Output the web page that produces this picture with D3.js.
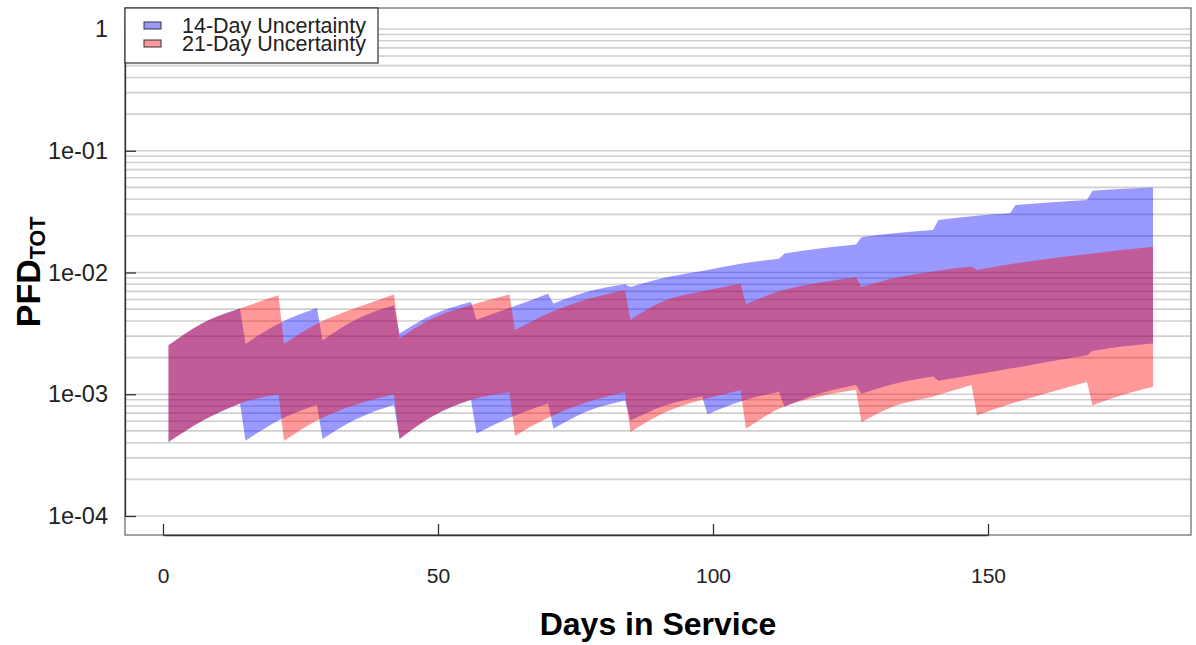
<!DOCTYPE html>
<html>
<head>
<meta charset="utf-8">
<script src="https://cdn.jsdelivr.net/npm/d3@7"></script>
<style>
  body { margin: 0; background: #fff; }
  svg text { font-family: "Liberation Sans", Arial, Helvetica, sans-serif; }
</style>
</head>
<body>
<svg id="chart" width="1196" height="645"></svg>
<script>
// 14-day test interval: sample days inside each cycle, upper and lower bound of PFD
const blueDays = [
    [1, 7, 14], [15, 21, 28], [29, 35, 42], [43, 49, 56], [57, 63, 70],
    [71, 77, 84], [85, 91, 98], [99, 105, 112], [113, 119, 126], [127, 133, 140],
    [141, 147, 154], [155, 161, 168], [169, 174, 180]
];
const blueUpper = [
    [2.53e-3, 3.8e-3, 5.05e-3], [2.6e-3, 3.8e-3, 5.1e-3], [2.78e-3, 4.1e-3, 5.38e-3],
    [3.15e-3, 4.5e-3, 5.73e-3], [4.1e-3, 5.1e-3, 6.7e-3], [5.55e-3, 6.9e-3, 8.0e-3],
    [7.6e-3, 9.0e-3, 1.03e-2], [1.05e-2, 1.18e-2, 1.30e-2], [1.43e-2, 1.57e-2, 1.70e-2],
    [1.95e-2, 2.1e-2, 2.23e-2], [2.70e-2, 2.9e-2, 3.06e-2], [3.58e-2, 3.75e-2, 3.94e-2],
    [4.69e-2, 4.85e-2, 5.0e-2]
];
const blueLower = [
    [4.05e-4, 6.0e-4, 8.4e-4], [4.15e-4, 6.1e-4, 8.2e-4], [4.3e-4, 6.2e-4, 8.2e-4],
    [4.3e-4, 6.6e-4, 9.0e-4], [4.75e-4, 6.4e-4, 8.4e-4], [5.2e-4, 7.2e-4, 8.9e-4],
    [6.1e-4, 8.0e-4, 9.6e-4], [6.85e-4, 8.7e-4, 1.05e-3], [7.9e-4, 1.0e-3, 1.19e-3],
    [1.01e-3, 1.22e-3, 1.40e-3], [1.29e-3, 1.43e-3, 1.63e-3], [1.65e-3, 1.85e-3, 2.09e-3],
    [2.27e-3, 2.45e-3, 2.61e-3]
];

// 21-day test interval
const redDays = [
    [1, 7, 14, 21], [22, 28, 35, 42], [43, 49, 56, 63], [64, 70, 77, 84], [85, 91, 98, 105],
    [106, 112, 119, 126], [127, 133, 140, 147], [148, 154, 161, 168], [169, 174, 180]
];
const redUpper = [
    [2.53e-3, 3.8e-3, 5.05e-3, 6.5e-3], [2.6e-3, 3.8e-3, 5.1e-3, 6.6e-3],
    [2.87e-3, 4.2e-3, 5.4e-3, 6.6e-3], [3.35e-3, 4.6e-3, 6.0e-3, 7.15e-3],
    [4.1e-3, 5.8e-3, 7.0e-3, 8.1e-3], [5.48e-3, 7.0e-3, 8.2e-3, 9.15e-3],
    [7.6e-3, 9.0e-3, 1.02e-2, 1.12e-2], [1.05e-2, 1.17e-2, 1.3e-2, 1.41e-2],
    [1.43e-2, 1.52e-2, 1.63e-2]
];
const redLower = [
    [4.05e-4, 6.0e-4, 8.4e-4, 1.0e-3], [4.15e-4, 6.1e-4, 8.2e-4, 1.0e-3],
    [4.3e-4, 6.6e-4, 9.0e-4, 1.04e-3], [4.55e-4, 6.4e-4, 8.6e-4, 1.04e-3],
    [4.9e-4, 7.0e-4, 9.0e-4, 1.08e-3], [5.2e-4, 7.6e-4, 9.5e-4, 1.09e-3],
    [5.9e-4, 8.0e-4, 9.6e-4, 1.19e-3], [6.7e-4, 8.3e-4, 1.03e-3, 1.26e-3],
    [8.1e-4, 9.7e-4, 1.15e-3]
];

const xTicks = [0, 50, 100, 150];
const yTicks = [1e-4, 1e-3, 1e-2, 1e-1, 1];
const yTickLabels = ['1e-04', '1e-03', '1e-02', '1e-01', '1'];
const legendLabels = ['14-Day Uncertainty', '21-Day Uncertainty'];
const bandColors = ['rgba(0,0,255,0.4)', 'rgba(255,0,0,0.4)'];

const box = {left: 125, right: 1191, top: 8, bottom: 535};

const svg = d3.select('#chart');

const x = d3.scaleLinear().domain([0, 150]).range([163, 988]);
const y = d3.scaleLog().domain([1e-4, 1]).range([516, 29]);

// minor log grid
svg.append('g')
    .selectAll('line')
    .data(y.ticks())
    .enter().append('line')
    .attr('x1', box.left)
    .attr('x2', box.right)
    .attr('y1', d => y(d))
    .attr('y2', d => y(d))
    .attr('stroke', '#cfcfcf')
    .attr('stroke-width', 1.6);

/**
 * One path per band: a smooth area for every test cycle plus a straight
 * piece for the drop between the last day of a cycle and the next test
 */
function bandPath(days, upper, lower) {
    const cycles = days.map((ds, i) => ds.map((d, j) => ({d: d, hi: upper[i][j], lo: lower[i][j]})));
    const smooth = d3.area()
        .x(p => x(p.d))
        .y0(p => y(p.lo))
        .y1(p => y(p.hi))
        .curve(d3.curveMonotoneX);
    const straight = d3.area()
        .x(p => x(p.d))
        .y0(p => y(p.lo))
        .y1(p => y(p.hi));
    let path = '';
    cycles.forEach((c, i) => {
        path += smooth(c);
        if (i < cycles.length - 1)
            path += straight([c[c.length - 1], cycles[i + 1][0]]);
    });
    return path;
}

svg.append('path')
    .attr('d', bandPath(blueDays, blueUpper, blueLower))
    .attr('fill', bandColors[0]);

svg.append('path')
    .attr('d', bandPath(redDays, redUpper, redLower))
    .attr('fill', bandColors[1]);

// plot frame
svg.append('rect')
    .attr('x', box.left)
    .attr('y', box.top)
    .attr('width', box.right - box.left)
    .attr('height', box.bottom - box.top)
    .attr('fill', 'none')
    .attr('stroke', '#707070')
    .attr('stroke-width', 1.3);

const xAxis = svg.append('g')
    .attr('transform', `translate(0,${box.bottom})`)
    .call(d3.axisBottom(x).tickValues(xTicks).tickSizeInner(-11).tickSizeOuter(0).tickPadding(33));

const yAxis = svg.append('g')
    .attr('transform', `translate(${box.left},0)`)
    .call(d3.axisLeft(y).tickValues(yTicks).tickFormat((d, i) => yTickLabels[i])
        .tickSizeInner(-11).tickSizeOuter(0).tickPadding(17));

[xAxis, yAxis].forEach(a => {
    a.select('.domain').attr('stroke', '#333').attr('stroke-width', 1.3);
    a.selectAll('.tick line').attr('stroke', '#333').attr('stroke-width', 1.3);
    a.selectAll('.tick text')
        .attr('fill', '#222')
        .style('font-size', '21px')
        .style('font-family', '"Liberation Sans", Arial, sans-serif');
});
yAxis.selectAll('.tick text').style('font-size', '23.5px');

svg.append('text')
    .attr('x', (box.left + box.right) / 2)
    .attr('y', 635)
    .attr('text-anchor', 'middle')
    .style('font-size', '32px')
    .style('font-weight', 'bold')
    .text('Days in Service');

const yLabel = svg.append('text')
    .attr('transform', 'translate(40,272) rotate(-90)')
    .attr('text-anchor', 'middle')
    .style('font-weight', 'bold');
yLabel.append('tspan').style('font-size', '34px').text('PFD');
yLabel.append('tspan').style('font-size', '21.5px').attr('dy', 5).text('TOT');

// legend
const legend = svg.append('g');
legend.append('rect')
    .attr('x', box.left)
    .attr('y', box.top)
    .attr('width', 253)
    .attr('height', 55)
    .attr('fill', '#fff')
    .attr('stroke', '#333')
    .attr('stroke-width', 1.2);

const items = legend.selectAll('g.item')
    .data(legendLabels)
    .enter().append('g')
    .attr('class', 'item')
    .attr('transform', (d, i) => `translate(0,${25 + i * 18})`);

items.append('rect')
    .attr('x', 144)
    .attr('y', -3)
    .attr('width', 17)
    .attr('height', 7)
    .attr('fill', (d, i) => bandColors[i])
    .attr('stroke', '#333')
    .attr('stroke-width', 1);

items.append('text')
    .attr('x', 182)
    .attr('y', 8)
    .style('font-size', '21.5px')
    .attr('fill', '#222')
    .text(d => d);
</script>
</body>
</html>
